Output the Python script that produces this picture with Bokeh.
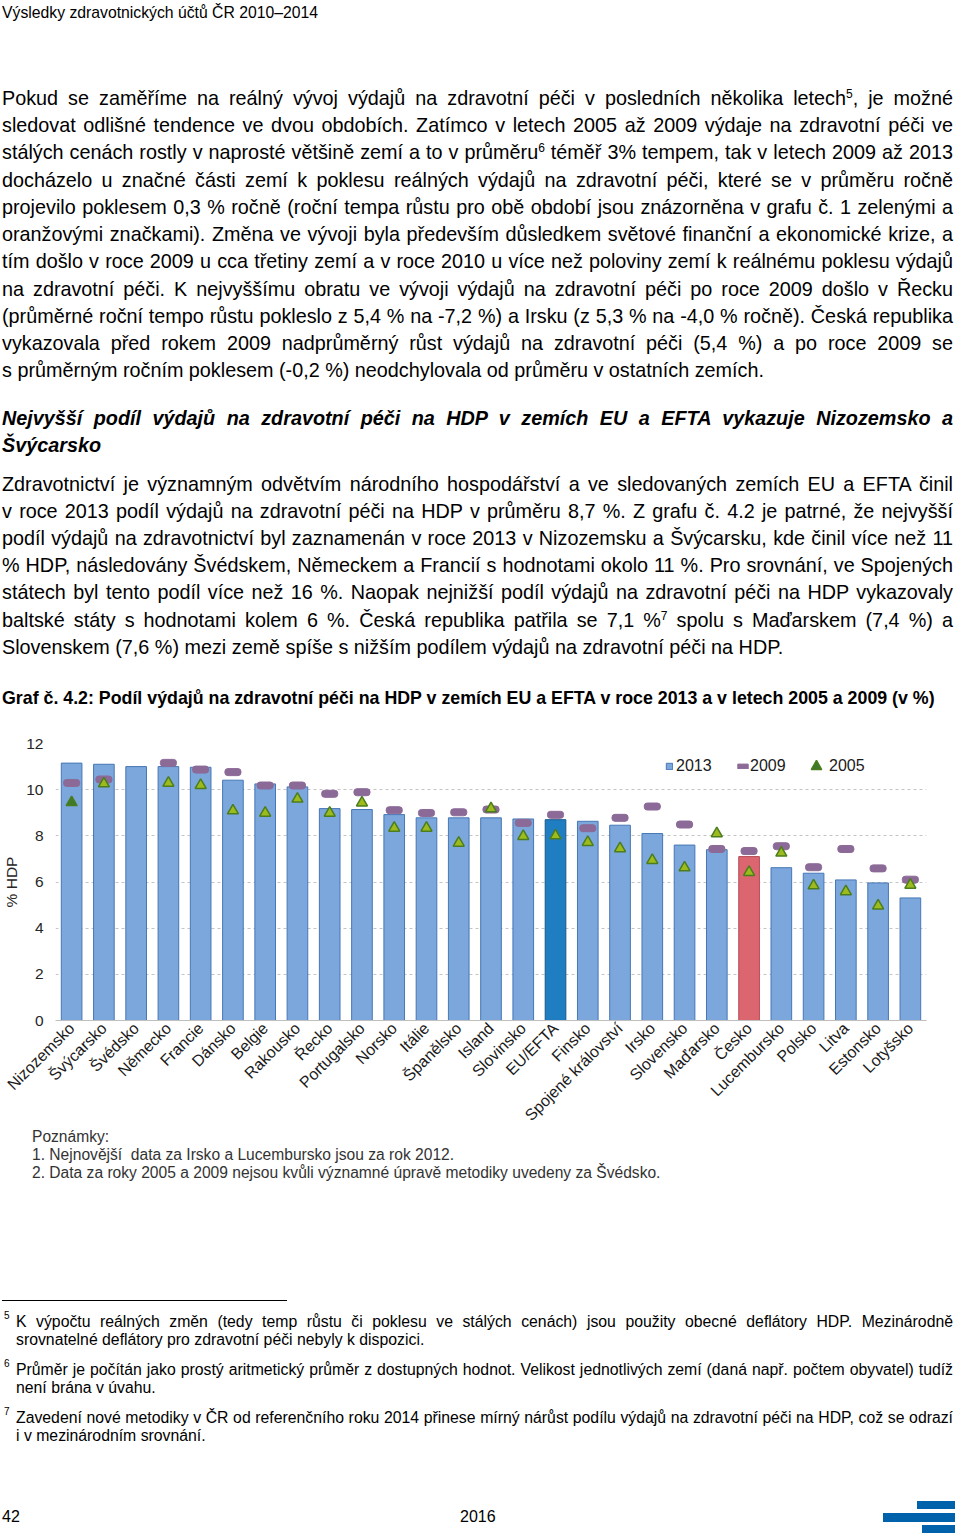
from bokeh.plotting import figure
from bokeh.models import (ColumnDataSource, Div, Legend, LegendItem, FactorRange,
                          FixedTicker)
from bokeh.layouts import column
from bokeh.embed import file_html
from bokeh.resources import INLINE

NAN = float("nan")

# ---------------- data ----------------
countries = ["Nizozemsko", "Švýcarsko", "Švédsko", "Německo", "Francie", "Dánsko",
             "Belgie", "Rakousko", "Řecko", "Portugalsko", "Norsko", "Itálie",
             "Španělsko", "Island", "Slovinsko", "EU/EFTA", "Finsko",
             "Spojené království", "Irsko", "Slovensko", "Maďarsko", "Česko",
             "Lucembursko", "Polsko", "Litva", "Estonsko", "Lotyšsko"]
v2013 = [11.15, 11.1, 11.0, 11.0, 10.97, 10.41, 10.25, 10.12, 9.18, 9.14, 8.92, 8.78,
         8.78, 8.78, 8.73, 8.7, 8.63, 8.46, 8.1, 7.6, 7.4, 7.1, 6.62, 6.38, 6.09,
         5.96, 5.31]
v2009 = [10.29, 10.44, NAN, 11.16, 10.87, 10.76, 10.18, 10.18, 9.82, 9.89, 9.11, 8.99,
         9.02, 9.14, 8.56, 8.91, 8.33, 8.78, 9.27, 8.49, 7.43, 7.34, 7.55, 6.64, 7.43,
         6.59, 6.10]
v2005 = [9.45, 10.26, NAN, 10.29, 10.19, 9.09, 8.99, 9.60, 8.99, 9.43, 8.34, 8.34,
         7.69, 9.18, 7.98, 8.01, 7.72, 7.45, 6.94, 6.62, 8.10, 6.42, 7.26, 5.84, 5.59,
         4.97, 5.87]
y_ticks = [0, 2, 4, 6, 8, 10, 12]
series_names = ["2013", "2009", "2005"]

FONT = "'Liberation Sans', Arial, sans-serif"
W = 944

# ---------------- styles ----------------
bar_fill = []
bar_line = []
for c in countries:
    if c == "EU/EFTA":
        bar_fill.append("#1F7DC1"); bar_line.append("#17598C")
    elif c == "Česko":
        bar_fill.append("#DB6670"); bar_line.append("#B24A55")
    else:
        bar_fill.append("#7BA7DD"); bar_line.append("#4677B4")
tri_fill = ["#3E7A2A" if i == 0 else "#9DBB1D" for i in range(len(countries))]

src = ColumnDataSource(dict(c=countries, v2013=v2013, v2009=v2009, v2005=v2005,
                            bf=bar_fill, bl=bar_line, tf=tri_fill))


def line(txt, cy, off, left=-3, width=None, size=19.8, weight="normal", style="normal",
         justify=False, color="#000"):
    lh = round(size * 1.15)
    top = cy - off - lh / 2 - 0.0865 * size
    w = f"width:{width}px;" if width else ""
    al = "text-align:justify;text-align-last:justify;" if justify else "text-align:left;"
    return (f'<div style="position:absolute;left:{left}px;top:{top:.1f}px;{w}'
            f'font-family:{FONT};font-size:{size}px;line-height:{lh}px;font-weight:{weight};'
            f'font-style:{style};color:{color};white-space:nowrap;{al}">{txt}</div>')


def sup(n, size=12):
    return f'<sup style="font-size:{size}px;line-height:0;vertical-align:0.6em">{n}</sup>'


OFF_T = 2.5  # effective page y of top div origin
OX = 5       # effective page x of div origin
BW = 951     # body text width (page x 2 .. 953)
para1 = [
    f"Pokud se zaměříme na reálný vývoj výdajů na zdravotní péči v&nbsp;posledních několika letech{sup(5)}, je možné",
    "sledovat odlišné tendence ve dvou obdobích. Zatímco v&nbsp;letech 2005 až 2009 výdaje na zdravotní péči ve",
    f"stálých cenách rostly v&nbsp;naprosté většině zemí a to v&nbsp;průměru{sup(6)} téměř 3% tempem, tak v&nbsp;letech 2009 až 2013",
    "docházelo u značné části zemí k poklesu reálných výdajů na zdravotní péči, které se v průměru ročně",
    "projevilo poklesem 0,3 % ročně (roční tempa růstu pro obě období jsou znázorněna v&nbsp;grafu č. 1 zelenými a",
    "oranžovými značkami). Změna ve vývoji byla především důsledkem světové finanční a ekonomické krize, a",
    "tím došlo v roce 2009 u cca třetiny zemí a v roce 2010 u více než poloviny zemí k reálnému poklesu výdajů",
    "na zdravotní péči. K nejvyššímu obratu ve vývoji výdajů na zdravotní péči po roce 2009 došlo v&nbsp;Řecku",
    "(průměrné roční tempo růstu pokleslo z 5,4 % na -7,2 %) a Irsku (z 5,3 % na -4,0 % ročně). Česká republika",
    "vykazovala před rokem 2009 nadprůměrný růst výdajů na zdravotní péči (5,4 %) a po roce 2009 se",
    "s&nbsp;průměrným ročním poklesem (-0,2 %) neodchylovala od průměru v ostatních zemích.",
]
para1_y = [98, 125, 152, 180, 207, 234, 261, 289, 316, 343, 370]
head = ["Nejvyšší podíl výdajů na zdravotní péči na HDP v zemích EU a EFTA vykazuje Nizozemsko a",
        "Švýcarsko"]
head_y = [418, 445]
para2 = [
    "Zdravotnictví je významným odvětvím národního hospodářství a ve sledovaných zemích EU a EFTA činil",
    "v&nbsp;roce 2013 podíl výdajů na zdravotní péči na HDP v průměru 8,7 %. Z&nbsp;grafu č. 4.2 je patrné, že nejvyšší",
    "podíl výdajů na zdravotnictví byl zaznamenán v&nbsp;roce 2013 v&nbsp;Nizozemsku a Švýcarsku, kde činil více než 11",
    "% HDP, následovány Švédskem, Německem a Francií s hodnotami okolo 11 %. Pro srovnání, ve Spojených",
    "státech byl tento podíl více než 16 %. Naopak nejnižší podíl výdajů na zdravotní péči na HDP vykazovaly",
    f"baltské státy s&nbsp;hodnotami kolem 6 %. Česká republika patřila se 7,1 %{sup(7)} spolu s&nbsp;Maďarskem (7,4 %) a",
    "Slovenskem (7,6 %) mezi země spíše s nižším podílem výdajů na zdravotní péči na HDP.",
]
para2_y = [484, 511, 538, 565, 592, 620, 647]

parts = [line("Výsledky zdravotnických účtů ČR 2010–2014", 12, OFF_T, size=15.75)]
for i, (t, y) in enumerate(zip(para1, para1_y)):
    parts.append(line(t, y, OFF_T, width=BW, justify=(i < len(para1) - 1)))
for i, (t, y) in enumerate(zip(head, head_y)):
    parts.append(line(t, y, OFF_T, width=BW, weight="bold", style="italic", justify=(i == 0)))
for i, (t, y) in enumerate(zip(para2, para2_y)):
    parts.append(line(t, y, OFF_T, width=BW, justify=(i < len(para2) - 1)))
parts.append(line("Graf č. 4.2: Podíl výdajů na zdravotní péči na HDP v zemích EU a EFTA v roce 2013 a v letech 2005 a 2009 (v %)",
                  697, OFF_T, size=17.8, weight="bold"))

TOP_H = 720
top_div = Div(text=f'<div style="position:relative;width:{W}px;height:{TOP_H}px">' + "".join(parts) + "</div>",
              width=W, height=TOP_H)

# ---------------- chart ----------------
BT, BB, BL, BR = 13, 115, 52, 16
FW, FH = 871, 277
CH_H = BT + FH + BB
p = figure(x_range=FactorRange(*countries, range_padding=0), y_range=(0, 12),
           frame_width=FW, frame_height=FH, output_backend="svg", toolbar_location=None,
           min_border_left=BL, min_border_right=BR, min_border_top=BT, min_border_bottom=BB)
p.outline_line_color = None
p.background_fill_color = "white"
p.border_fill_color = "white"

bars = p.vbar(x="c", top="v2013", width=0.64, source=src, fill_color="bf", line_color="bl",
              line_width=1)
dash = p.rect(x="c", y="v2009", width=0.5, height=7, height_units="screen", source=src,
              fill_color="#8C6A97", line_color="#8C6A97", border_radius=3)
tri = p.scatter(x="c", y="v2005", marker="triangle", size=11, source=src, fill_color="tf",
                line_color="#4B7D1E", line_width=1.5)

p.xgrid.grid_line_color = None
p.ygrid.grid_line_color = "#C4C4C4"
p.ygrid.grid_line_dash = "3 3"
p.ygrid.ticker = FixedTicker(ticks=y_ticks)

p.yaxis.ticker = FixedTicker(ticks=y_ticks)
p.yaxis.axis_line_color = None
p.yaxis.major_tick_line_color = None
p.yaxis.minor_tick_line_color = None
p.yaxis.major_tick_out = 0
p.yaxis.major_tick_in = 0
p.yaxis.minor_tick_out = 0
p.yaxis.major_label_standoff = 12
p.yaxis.major_label_text_font = "Liberation Sans"
p.yaxis.major_label_text_font_size = "15.5px"
p.yaxis.major_label_text_color = "#262626"
p.yaxis.axis_label = "% HDP"
p.yaxis.axis_label_text_font = "Liberation Sans"
p.yaxis.axis_label_text_font_size = "15.5px"
p.yaxis.axis_label_text_font_style = "normal"
p.yaxis.axis_label_text_color = "#262626"
p.yaxis.axis_label_standoff = 3

p.xaxis.axis_line_color = "#BFBFBF"
p.xaxis.major_tick_line_color = None
p.xaxis.minor_tick_line_color = None
p.xaxis.major_tick_out = 0
p.xaxis.major_tick_in = 0
p.xaxis.minor_tick_out = 0
p.xaxis.major_label_orientation = 0.785
p.xaxis.major_label_standoff = 5
p.xaxis.major_label_text_font = "Liberation Sans"
p.xaxis.major_label_text_font_size = "16px"
p.xaxis.major_label_text_color = "#1A1A1A"

FX = OX + BL         # page x of frame left
LEG_CY = 1021 - 767  # legend centre above frame bottom


def add_legend(name, rend, left_page, gw, gh, standoff):
    h = max(gh, 18)
    lg = Legend(items=[LegendItem(label=name, renderers=[rend])],
                location=(left_page - FX, LEG_CY - h / 2),
                orientation="horizontal", glyph_width=gw, glyph_height=gh, label_height=18,
                label_standoff=standoff, padding=0, margin=0, border_line_alpha=0,
                background_fill_alpha=0, label_text_font="Liberation Sans",
                label_text_font_size="16px", label_text_color="#1A1A1A")
    p.add_layout(lg)


add_legend(series_names[0], bars, 667, 8, 8, 3)
add_legend(series_names[1], dash, 738, 13, 6, 1)
add_legend(series_names[2], tri, 805, 26, 30, 0)

# ---------------- bottom ----------------
B0 = 8 + TOP_H + CH_H  # nominal page y of bottom div
OFF_B = B0 + 6
BOT_H = 1528 - B0
NS = 15.6
FS = 15.8
bparts = [
    line("Poznámky:", 1137, OFF_B, left=27, size=NS, color="#333"),
    line("1. Nejnovější&nbsp; data za Irsko a Lucembursko jsou za rok 2012.", 1155, OFF_B, left=27, size=NS, color="#333"),
    line("2. Data za roky 2005 a 2009 nejsou kvůli významné úpravě metodiky uvedeny za Švédsko.", 1173, OFF_B, left=27, size=NS, color="#333"),
    f'<div style="position:absolute;left:-3px;top:{1299 - OFF_B}px;width:285px;height:1px;background:#000"></div>',
]
foot = [
    ("5", "K výpočtu reálných změn (tedy temp růstu či poklesu ve stálých cenách) jsou použity obecné deflátory HDP. Mezinárodně",
     "srovnatelné deflátory pro zdravotní péči nebyly k dispozici.", 1322),
    ("6", "Průměr je počítán jako prostý aritmetický průměr z dostupných hodnot. Velikost jednotlivých zemí (daná např. počtem obyvatel) tudíž",
     "není brána v úvahu.", 1370),
    ("7", "Zavedení nové metodiky v ČR od referenčního roku 2014 přinese mírný nárůst podílu výdajů na zdravotní péči na HDP, což se odrazí",
     "i v mezinárodním srovnání.", 1418),
]
for n, l1, l2, y in foot:
    bparts.append(line(n, y - 6, OFF_B, left=-1, size=10))
    bparts.append(line(l1, y, OFF_B, left=11, width=937, size=FS, justify=True))
    bparts.append(line(l2, y + 18, OFF_B, left=11, size=FS))
bparts.append(line("42", 1517, OFF_B, left=-3, size=16))
bparts.append(line("2016", 1517, OFF_B, left=455, size=16))
for (x0, x1, y0, y1) in [(917, 955, 1500, 1508), (883, 955, 1512, 1521), (922, 955, 1524, 1532)]:
    bparts.append(f'<div style="position:absolute;left:{x0 - OX}px;top:{y0 - OFF_B}px;width:{x1 - x0}px;'
                  f'height:{y1 - y0}px;background:#0062AA"></div>')
bot_div = Div(text=f'<div style="position:relative;width:{W}px;height:{BOT_H}px">' + "".join(bparts) + "</div>",
              width=W, height=BOT_H)

layout = column(top_div, p, bot_div, spacing=0)
open("out.html", "w").write(file_html(layout, INLINE))
